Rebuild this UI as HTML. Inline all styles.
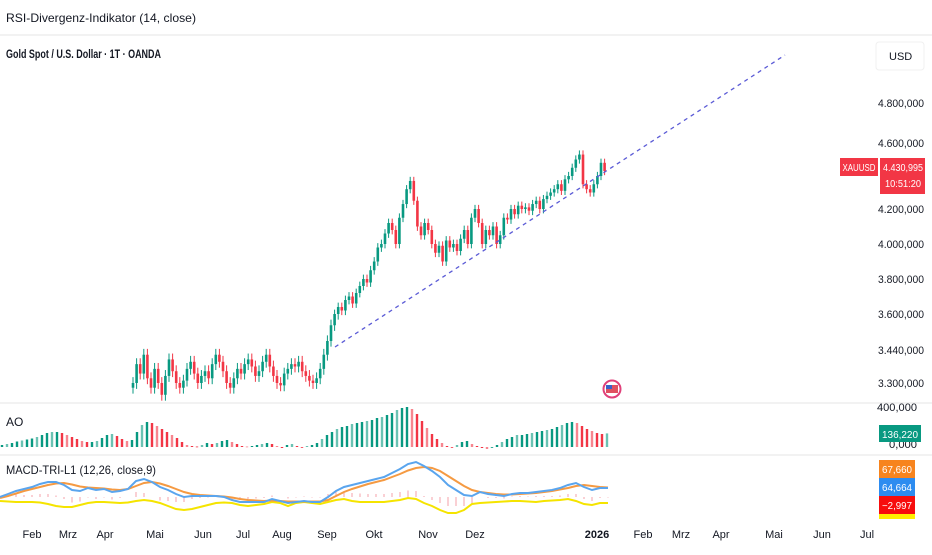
<!DOCTYPE html>
<html><head><meta charset="utf-8">
<style>
body{margin:0;width:932px;height:550px;overflow:hidden;background:#fff;font-family:"Liberation Sans",sans-serif;}
svg text{font-family:"Liberation Sans",sans-serif;}
</style></head>
<body>
<svg id="c" width="932" height="550" xmlns="http://www.w3.org/2000/svg">
<text x="6" y="22" font-size="12" fill="#131722" textLength="190" lengthAdjust="spacingAndGlyphs">RSI-Divergenz-Indikator (14, close)</text>
<line x1="0" y1="35" x2="932" y2="35" stroke="#e6e6e6"/>
<text x="6" y="58" font-size="12" font-weight="bold" fill="#131722" textLength="155" lengthAdjust="spacingAndGlyphs">Gold Spot / U.S. Dollar · 1T · OANDA</text>
<rect x="876" y="42" width="48" height="28" rx="3" fill="#fff" stroke="#f0f0f0"/>
<text x="889" y="60" font-size="11" fill="#131722">USD</text>
<line x1="0" y1="403" x2="932" y2="403" stroke="#e6e6e6"/>
<line x1="0" y1="455" x2="932" y2="455" stroke="#e6e6e6"/>
<text x="6" y="426" font-size="12" fill="#131722">AO</text>
<text x="6" y="474" font-size="12" fill="#131722" textLength="150" lengthAdjust="spacingAndGlyphs">MACD-TRI-L1 (12,26, close,9)</text>
<g id="price"></g><g id="ao"></g><g id="macd"></g><g id="axes"></g>
<line x1="335" y1="347" x2="785" y2="55" stroke="#5b5bd6" stroke-width="1.3" stroke-dasharray="4,4"/>
<g><circle cx="612" cy="389" r="8.5" fill="#fff" stroke="#e0407a" stroke-width="2"/><rect x="606" y="385" width="12" height="8" fill="#e05060"/><rect x="606" y="385" width="6" height="4" fill="#3a5fc8"/></g>
<rect x="840" y="158" width="38" height="18" fill="#f23645"/>
<text x="859" y="171" font-size="10" fill="#fff" text-anchor="middle" textLength="33" lengthAdjust="spacingAndGlyphs">XAUUSD</text>
<rect x="880" y="158" width="45" height="36" fill="#f23645"/>
<text x="903" y="171" font-size="10" fill="#fff" text-anchor="middle" textLength="40" lengthAdjust="spacingAndGlyphs">4.430,995</text>
<text x="903" y="187" font-size="10" fill="#fff" text-anchor="middle" textLength="36" lengthAdjust="spacingAndGlyphs">10:51:20</text>
<rect x="879" y="425" width="42" height="17" fill="#089981"/>
<text x="900" y="438" font-size="10" fill="#fff" text-anchor="middle" textLength="36" lengthAdjust="spacingAndGlyphs">136,220</text>
<rect x="879" y="460" width="36" height="18" fill="#f7841e"/>
<text x="897" y="473" font-size="10" fill="#fff" text-anchor="middle" textLength="30" lengthAdjust="spacingAndGlyphs">67,660</text>
<rect x="879" y="478" width="36" height="18" fill="#2d8cf0"/>
<text x="897" y="491" font-size="10" fill="#fff" text-anchor="middle" textLength="30" lengthAdjust="spacingAndGlyphs">64,664</text>
<rect x="879" y="496" width="36" height="18" fill="#f70d0d"/>
<text x="897" y="509" font-size="10" fill="#fff" text-anchor="middle" textLength="30" lengthAdjust="spacingAndGlyphs">−2,997</text>
<rect x="879" y="514" width="36" height="5" fill="#ffee00"/>
</svg>
<script>
const NS="http://www.w3.org/2000/svg";
const priceTicks=[3300,3440,3600,3800,4000,4200,4600,4800];
const priceTickLabels=["3.300,000","3.440,000","3.600,000","3.800,000","4.000,000","4.200,000","4.600,000","4.800,000"];
const priceTickY=[383,350,314,279,244,209,143,103];
const months=["Feb","Mrz","Apr","Mai","Jun","Jul","Aug","Sep","Okt","Nov","Dez","2026","Feb","Mrz","Apr","Mai","Jun","Jul"];
const monthX=[32,68,105,155,203,243,282,327,374,428,475,597,643,681,721,774,822,867];
const closes=[3300,3380,3340,3420,3320,3280,3360,3300,3250,3330,3400,3350,3300,3280,3310,3360,3390,3340,3300,
3330,3350,3320,3380,3420,3390,3350,3300,3280,3320,3360,3340,3380,3400,3370,3330,3350,3390,3420,
3370,3330,3300,3290,3340,3360,3380,3370,3390,3350,3330,3310,3300,3320,3360,
3420,3480,3550,3600,3640,3620,3680,3700,3660,3720,3760,3800,3780,3850,3900,3980,4000,4060,4120,4080,4000,4150,4230,4320,4370,
4250,4100,4050,4120,4080,4000,3950,3990,3900,4020,3980,4000,3960,4030,4080,4000,
4150,4200,4120,4000,4080,4050,4100,4000,4050,4150,4140,4200,4170,4220,4200,4210,4190,
4230,4250,4200,4260,4280,4300,4320,4350,4310,4380,4400,4450,4500,4530,4350,4320,4300,4350,4400,4480,4430];
const aoValues=[20,30,40,55,65,75,85,100,120,140,150,150,140,120,100,80,60,50,50,60,
90,120,130,110,80,60,70,150,220,250,240,210,180,150,120,90,50,20,10,5,
20,40,30,40,60,70,50,30,10,5,10,20,30,40,30,10,-10,20,30,10,
0,10,20,40,80,120,150,180,200,210,230,240,250,260,270,290,300,320,340,370,
390,400,380,330,260,190,130,80,40,10,-5,20,50,60,30,10,-10,-20,-5,20,
50,80,100,120,120,130,140,150,160,170,180,200,220,240,250,240,210,180,160,140,130,136];
const macdLine=[12,24,36,44,52,64,72,72,60,40,36,48,40,44,32,36,44,76,84,72,52,40,24,12,16,16,16,16,12,0,
-8,-8,-8,-8,4,-4,-12,-8,-4,-8,-8,12,36,52,60,68,76,84,92,108,124,144,152,136,116,92,60,40,20,16,
32,24,20,16,24,28,28,32,36,40,48,60,68,52,40,48,48];
const signalLine=[8,16,26,36,44,52,60,66,68,62,54,50,48,46,42,40,44,56,68,72,66,56,44,32,24,20,18,16,14,10,
4,0,-2,-4,-2,-4,-6,-6,-6,-6,-6,0,16,32,44,54,64,72,80,92,104,118,128,132,128,116,96,76,56,40,
32,28,24,22,22,24,26,28,32,36,42,48,56,60,56,52,50];
const yellowLine=[-4,-6,-8,-8,-8,-10,-16,-24,-28,-28,-20,-12,-8,-8,-10,-12,-10,-4,0,-4,-12,-24,-36,-40,-36,-28,-20,-12,-10,-12,
-20,-24,-20,-16,-8,-12,-24,-12,-8,-12,-16,-8,0,4,-4,-8,-8,-8,-8,-4,0,8,4,-12,-24,-40,-52,-52,-40,-16,
-12,-10,-8,-6,-4,-4,-6,-8,-4,-2,0,4,-4,-16,-20,-12,-12];

function py(p){
  if(p<=priceTicks[0]){return priceTickY[0]+(p-priceTicks[0])*(priceTickY[1]-priceTickY[0])/(priceTicks[1]-priceTicks[0]);}
  for(let i=0;i<priceTicks.length-1;i++){
    if(p<=priceTicks[i+1]){return priceTickY[i]+(p-priceTicks[i])*(priceTickY[i+1]-priceTickY[i])/(priceTicks[i+1]-priceTicks[i]);}
  }
  const n=priceTicks.length-1;return priceTickY[n]+(p-priceTicks[n])*(priceTickY[n]-priceTickY[n-1])/(priceTicks[n]-priceTicks[n-1]);
}
const cx=i=>133+i*3.6;
const aoX=i=>2+i*5;
const aoY=v=>447-v/10;
const mX=i=>i*8;
const mY=v=>500-v/4;
function mk(tag,attrs,parent){const e=document.createElementNS(NS,tag);for(const k in attrs)e.setAttribute(k,attrs[k]);parent.appendChild(e);return e;}

const gP=document.getElementById('price');
const clipP=mk('clipPath',{id:'cp'},gP);mk('rect',{x:0,y:36,width:860,height:366},clipP);
const gPc=mk('g',{'clip-path':'url(#cp)'},gP);
for(let i=0;i<closes.length;i++){
  const o=i===0?3280:closes[i-1],c=closes[i];
  const up=c>=o,col=up?'#089981':'#f23645';
  const hi=Math.max(o,c)+25,lo=Math.min(o,c)-25;
  const g=mk('g',{},gPc);
  
  
  mk('line',{x1:cx(i),x2:cx(i),y1:py(hi),y2:py(lo),stroke:col,'stroke-width':1},g);
  const y1=py(Math.max(o,c)),y2=py(Math.min(o,c));
  mk('rect',{x:cx(i)-1.3,y:y1,width:2.6,height:Math.max(1,y2-y1),fill:col},g);
}
const gA=document.getElementById('ao');
for(let i=0;i<aoValues.length;i++){
  const v=aoValues[i],prev=i?aoValues[i-1]:v;
  const col=v>=prev?'#089981':'#f23645';
  const y=Math.min(aoY(v),aoY(0)),h=Math.max(0.8,Math.abs(aoY(v)-aoY(0)));
  const r=mk('rect',{x:aoX(i)-1.2,y:y,width:2.4,height:h,fill:col,opacity:(i%3===1?0.6:1)},gA);
  
  
}
const gM=document.getElementById('macd');
function line(arr,col,name,w){
  const p=mk('polyline',{points:arr.map((v,i)=>mX(i)+','+mY(v)).join(' '),fill:'none',stroke:col,'stroke-width':w},gM);
  
  
}
for(let i=0;i<macdLine.length;i++){
  const h=macdLine[i]-signalLine[i];
  const b=mk('line',{x1:mX(i),x2:mX(i),y1:mY(0)-3,y2:mY(h)-3,stroke:'#f5a0a8','stroke-width':1},gM);
  
  
}
line(yellowLine,'#f5e400','yellow-line',2);
line(signalLine,'#f59a42','signal-line',2);
line(macdLine,'#5aa5ee','macd-line',2);

const gX=document.getElementById('axes');
for(let i=0;i<priceTicks.length;i++){
  const t=mk('text',{x:924,y:priceTickY[i]+4,'font-size':11,fill:'#131722','text-anchor':'end',textLength:46,lengthAdjust:'spacingAndGlyphs'},gX);
  t.textContent=priceTickLabels[i];
  
  
}
[['400,000',411,40],['0,000',448,28]].forEach(a=>{
  const t=mk('text',{x:917,y:a[1],'font-size':11,fill:'#131722','text-anchor':'end',textLength:a[2],lengthAdjust:'spacingAndGlyphs'},gX);
  t.textContent=a[0];
  
  
});
for(let i=0;i<months.length;i++){
  const t=mk('text',{x:monthX[i],y:538,'font-size':11,fill:'#131722','text-anchor':'middle','font-weight':months[i]==='2026'?'bold':'normal'},gX);
  t.textContent=months[i];
  
  
}
</script>
</body></html>
